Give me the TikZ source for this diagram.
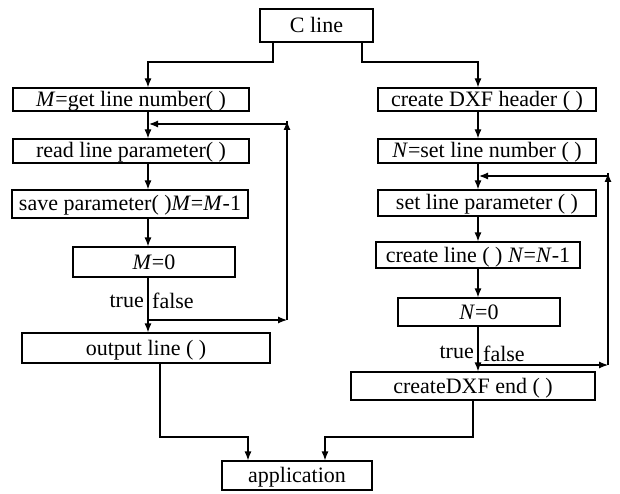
\documentclass[tikz,border=0pt]{standalone}
\usepackage{fontspec}
\setmainfont{Liberation Serif}
\usetikzlibrary{arrows.meta}
\begin{document}
\begin{tikzpicture}[x=1pt,y=-1pt,
  box/.style={draw,line width=1.2pt,inner sep=0pt,align=center,text height=16pt,text depth=2pt,font=\fontsize{22}{24}\selectfont},
  arr/.style={line width=1.2pt,-{Latex[length=9pt,width=7pt]}},
  ln/.style={line width=1.2pt},
  lbl/.style={inner sep=0pt,font=\fontsize{22}{24}\selectfont}]
\useasboundingbox (0,0) rectangle (620,494);
% nodes
\node[box,minimum width=113pt,minimum height=33pt] (cline) at (316.5,25.5) {C line};
\node[box,minimum width=236pt,minimum height=23pt] (mget) at (131,99.5) {\textit{M}=get line number( )};
\node[box,minimum width=218pt,minimum height=23pt] (header) at (487,99.5) {create DXF header ( )};
\node[box,minimum width=236pt,minimum height=24pt] (read) at (131,151) {read line parameter( )};
\node[box,minimum width=218pt,minimum height=24pt] (nset) at (487,151) {\textit{N}=set line number ( )};
\node[box,minimum width=236pt,minimum height=28pt] (save) at (130,204) {save parameter( )\textit{M}=\textit{M}-1};
\node[box,minimum width=218pt,minimum height=26pt] (setp) at (487,203) {set line parameter ( )};
\node[box,minimum width=162pt,minimum height=30pt] (mzero) at (154,262) {\textit{M}=0};
\node[box,minimum width=204pt,minimum height=26pt] (crl) at (478,255) {create line ( ) \textit{N}=\textit{N}-1};
\node[box,minimum width=248pt,minimum height=30pt] (out) at (146,348) {output line ( )};
\node[box,minimum width=162pt,minimum height=28pt] (nzero) at (479,312) {\textit{N}=0};
\node[box,minimum width=244pt,minimum height=28pt] (dxfend) at (473,386) {createDXF end ( )};
\node[box,minimum width=150pt,minimum height=29pt] (app) at (297,475.5) {application};
% coordinates
\coordinate (lx) at (148,0);
\coordinate (rx) at (478,0);
\coordinate (c1) at (273,0);
\coordinate (c2) at (362,0);
\coordinate (jl) at (148,62);
\coordinate (jr) at (478,62);
\coordinate (lloopb) at (287,320);
\coordinate (lloopt) at (287,124);
\coordinate (lfalse) at (148,320);
\coordinate (lentry) at (148,124);
\coordinate (rloopb) at (608,365);
\coordinate (rloopt) at (608,176);
\coordinate (rfalse) at (478,365);
\coordinate (rentry) at (478,176);
\coordinate (ob) at (160,0);
\coordinate (db) at (473,0);
\coordinate (al) at (248,437);
\coordinate (ar) at (325,437);
% top connectors
\draw[arr] (cline.south -| c1) |- (jl) -- (mget.north -| lx);
\draw[arr] (cline.south -| c2) |- (jr) -- (header.north -| rx);
% left column
\draw[arr] (mget.south -| lx) -- (read.north -| lx);
\draw[arr] (read.south -| lx) -- (save.north -| lx);
\draw[arr] (save.south -| lx) -- (mzero.north -| lx);
\draw[arr] (mzero.south -| lx) -- (out.north -| lx);
\draw[arr] (lfalse) -- (lloopb);
\draw[arr] (lloopb) -- ([yshift=3pt]lloopt);
\draw[ln] ([yshift=3pt]lloopt) -- (lloopt);
\draw[arr] (lloopt) -- ([xshift=1pt]lentry);
\node[lbl,anchor=east] (ltrue) at (144,301) {true};
\node[lbl,anchor=west] (lfalsel) at (152,301) {false};
% right column
\draw[arr] (header.south -| rx) -- (nset.north -| rx);
\draw[arr] (nset.south -| rx) -- (setp.north -| rx);
\draw[arr] (setp.south -| rx) -- (crl.north -| rx);
\draw[arr] (crl.south -| rx) -- (nzero.north -| rx);
\draw[arr] (nzero.south -| rx) -- (dxfend.north -| rx);
\draw[arr] (rfalse) -- (rloopb);
\draw[arr] (rloopb) -- ([yshift=3pt]rloopt);
\draw[ln] ([yshift=3pt]rloopt) -- (rloopt);
\draw[arr] (rloopt) -- ([xshift=1pt]rentry);
\node[lbl,anchor=east] (rtrue) at (474,352) {true};
\node[lbl,anchor=west] (rfalsel) at (483,354) {false};
% bottom connectors
\draw[arr] (out.south -| ob) |- (al) -- (app.north -| al);
\draw[arr] (dxfend.south -| db) |- (ar) -- (app.north -| ar);
\end{tikzpicture}
\end{document}
